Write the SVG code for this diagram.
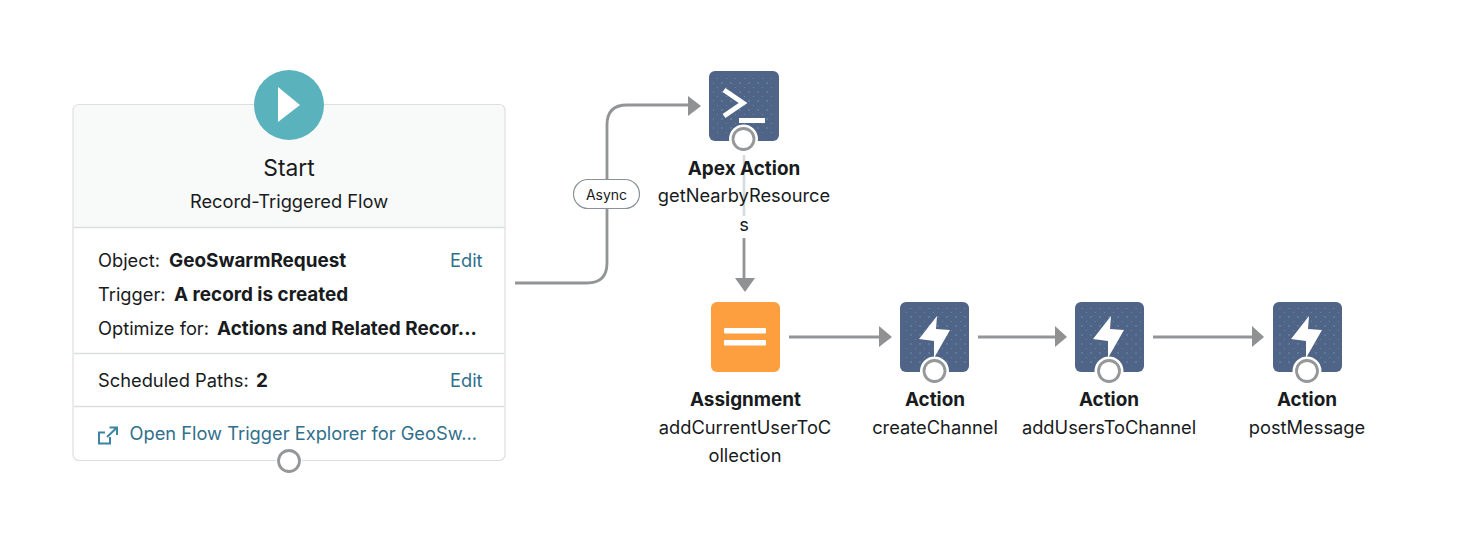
<svg xmlns="http://www.w3.org/2000/svg" width="1482" height="545" viewBox="0 0 1482 545">
<style>
text{font-family:Inter,"Noto Sans","Liberation Sans",sans-serif;font-size:18.300px;fill:#181b20}
.c{text-anchor:middle}
.b{font-weight:700;font-size:18.900px}
.l{fill:#2f6f8c}
.div{stroke:#dcdfdf;stroke-width:1.300;fill:none}
.con{stroke:#929496;stroke-width:2.800;fill:none}
.head{fill:#8f9193}
.ring{fill:#fff;stroke:#959799;stroke-width:2.800}
.halo{fill:#fff}
.box{fill:#4f6486}
.dots{fill:url(#dotPattern)}
.icon{fill:#fff}
</style>
<defs>
<pattern id="dotPattern" width="9" height="9" patternUnits="userSpaceOnUse">
<circle cx="2" cy="2" r="0.700" fill="#63c4cf" opacity="0.700"/>
<circle cx="6.500" cy="6.500" r="0.600" fill="#63c4cf" opacity="0.500"/>
</pattern>
<path id="bolt" class="icon" d="M2,-18 L-16,5 L-1,7 L-1,24 L15,-4 L1,-5 Z"/>
</defs>
<rect width="1482" height="545" fill="#fff"/>
<g id="connectors">
<path class="con" d="M515,283 H587 Q607,283 607,263 V125 Q607,105 627,105 H690"/>
<path class="head" d="M688,96 L701,106 L688,116 Z"/>
<path d="M744,155 V216" stroke="#d5dadf" stroke-width="2.500" fill="none"/>
<path class="con" d="M744,238 V280"/>
<path class="head" d="M735,278 L755,278 L745,292 Z"/>
<path class="con" d="M789,337 H880"/>
<path class="head" d="M879,326 L892,337 L879,347 Z"/>
<path class="con" d="M978,337 H1057"/>
<path class="head" d="M1055,326 L1067,337 L1055,347 Z"/>
<path class="con" d="M1153,337 H1254"/>
<path class="head" d="M1252,326 L1264,337 L1252,347 Z"/>
<rect x="573.500" y="179.500" width="66" height="29" rx="14.500" fill="#fff" stroke="#8a9299" stroke-width="1.200"/>
<text class="c" x="606.500" y="200" style="font-size:14px">Async</text>
</g>
<g id="start">
<rect x="73" y="104.500" width="432" height="356" rx="6" fill="#fff" stroke="#dcdfdf" stroke-width="1.200"/>
<path d="M74,227 V110 Q74,105 79,105 H499 Q504,105 504,110 V227 Z" fill="#f8f9f9"/>
<path class="div" d="M73,227.500 H505"/>
<path class="div" d="M74,353.500 H504"/>
<path class="div" d="M74,406.500 H504"/>
<circle cx="289" cy="105" r="35" fill="#5ab2bc"/>
<path class="icon" d="M278,87 L300,105 L278,122 Z"/>
<text class="c" x="289" y="176" style="font-size:22.800px">Start</text>
<text class="c" x="289" y="208">Record-Triggered Flow</text>
<text x="98" y="266.600">Object:</text>
<text class="b" x="169" y="266.600">GeoSwarmRequest</text>
<text class="l" x="450" y="266.600">Edit</text>
<text x="98" y="300.600">Trigger:</text>
<text class="b" x="174" y="300.600">A record is created</text>
<text x="98" y="334.600">Optimize for:</text>
<text class="b" x="217" y="334.600">Actions and Related Recor...</text>
<text x="98" y="387.400">Scheduled Paths:</text>
<text class="b" x="256" y="387.400">2</text>
<text class="l" x="450" y="387.400">Edit</text>
<path d="M105,432.500 H99 V443.500 H110 V437 M107,437 L117,427.500 M109.500,427.500 H117 V435" fill="none" stroke="#3d83a3" stroke-width="2"/>
<text class="l" x="129.500" y="439.700">Open Flow Trigger Explorer for GeoSw...</text>
<circle class="halo" cx="289" cy="461" r="13"/>
<circle class="ring" cx="289" cy="461" r="10.500"/>
</g>
<g id="apex">
<rect class="box" x="709" y="71" width="70" height="70" rx="6"/>
<rect class="dots" x="713" y="77" width="62" height="58"/>
<path d="M724,90 L743,103 L724,116" fill="none" stroke="#fff" stroke-width="5"/>
<rect class="icon" x="739" y="118" width="26" height="5"/>
<circle class="halo" cx="743.500" cy="139" r="14.500"/>
<circle class="ring" cx="743.500" cy="139" r="10.500"/>
<text class="c b" x="744" y="174.500">Apex Action</text>
<text class="c" x="744" y="202">getNearbyResource</text>
<text class="c" x="744" y="231">s</text>
</g>
<g id="assignment">
<rect x="711" y="302" width="69" height="70" rx="6" fill="#fd9e3f"/>
<rect class="icon" x="724" y="328" width="42" height="5.500" rx="1"/>
<rect class="icon" x="724" y="340" width="42" height="5.500" rx="1"/>
<text class="c b" x="745.500" y="405.500">Assignment</text>
<text class="c" x="745" y="433.500">addCurrentUserToC</text>
<text class="c" x="745" y="461.500">ollection</text>
</g>
<g id="createChannel">
<rect class="box" x="900" y="302" width="69" height="70" rx="6"/>
<rect class="dots" x="904" y="308" width="62" height="58"/>
<use href="#bolt" x="935" y="334"/>
<circle class="halo" cx="934.500" cy="371" r="14.500"/>
<circle class="ring" cx="934.500" cy="371" r="10.500"/>
<text class="c b" x="935" y="405.500">Action</text>
<text class="c" x="935" y="433.500">createChannel</text>
</g>
<g id="addUsersToChannel">
<rect class="box" x="1075" y="302" width="69" height="70" rx="6"/>
<rect class="dots" x="1079" y="308" width="62" height="58"/>
<use href="#bolt" x="1109" y="334"/>
<circle class="halo" cx="1109" cy="371" r="14.500"/>
<circle class="ring" cx="1109" cy="371" r="10.500"/>
<text class="c b" x="1109" y="405.500">Action</text>
<text class="c" x="1109" y="433.500">addUsersToChannel</text>
</g>
<g id="postMessage">
<rect class="box" x="1273" y="302" width="69" height="70" rx="6"/>
<rect class="dots" x="1277" y="308" width="62" height="58"/>
<use href="#bolt" x="1307" y="334"/>
<circle class="halo" cx="1307" cy="371" r="14.500"/>
<circle class="ring" cx="1307" cy="371" r="10.500"/>
<text class="c b" x="1307" y="405.500">Action</text>
<text class="c" x="1307" y="433.500">postMessage</text>
</g>
</svg>
